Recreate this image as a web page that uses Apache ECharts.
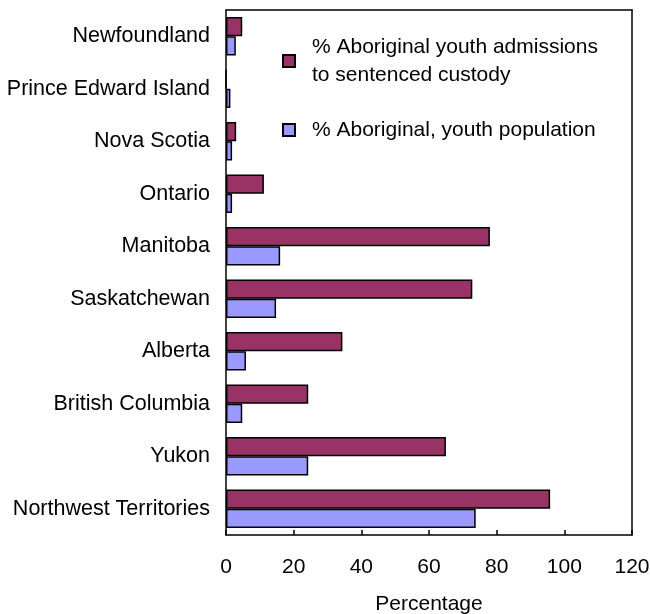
<!DOCTYPE html>
<html>
<head>
<meta charset="utf-8">
<script src="https://cdn.jsdelivr.net/npm/echarts@6/dist/echarts.min.js"></script>
<style>
html,body{margin:0;padding:0;background:#fff;}
#chart{width:650px;height:614px;}
</style>
</head>
<body>
<div id="chart"></div>
<script>
const categories = ["Newfoundland", "Prince Edward Island", "Nova Scotia", "Ontario", "Manitoba", "Saskatchewan", "Alberta", "British Columbia", "Yukon", "Northwest Territories"];
const admissions = [4.8, 0, 3.0, 11.2, 78.0, 72.8, 34.4, 24.3, 65.0, 95.8];
const population = [2.9, 1.3, 1.8, 1.8, 16.0, 14.8, 5.9, 4.8, 24.3, 73.8];
const seriesNames = ["% Aboriginal youth admissions\nto sentenced custody", "% Aboriginal, youth population"];
const xTicks = [0, 20, 40, 60, 80, 100, 120];
const axisTitle = "Percentage";

const font = "'Liberation Sans', Arial, sans-serif";
const chart = echarts.init(document.getElementById('chart'), null, {renderer: 'canvas'});
chart.setOption({
  animation: false,
  backgroundColor: '#fff',
  textStyle: {fontFamily: font, color: '#000'},
  grid: {left: 226, right: 18, top: 10, bottom: 79, show: false, containLabel: false, outerBoundsMode: 'none'},
  legend: {
    orient: 'vertical',
    left: 277,
    top: 28,
    itemWidth: 12,
    itemHeight: 12,
    itemGap: 27,
    icon: 'rect',
    textStyle: {fontFamily: font, fontSize: 21, color: '#000', lineHeight: 28, padding: [0, 0, 0, 12]},
    data: seriesNames
  },
  xAxis: [{
    type: 'value',
    min: xTicks[0],
    max: xTicks[xTicks.length - 1],
    interval: 20,
    name: axisTitle,
    nameLocation: 'middle',
    nameGap: 59,
    nameTextStyle: {fontFamily: font, fontSize: 21, color: '#000'},
    axisLine: {show: true, lineStyle: {color: '#000', width: 1.5}},
    axisTick: {show: true, inside: true, length: 5, lineStyle: {color: '#000', width: 1.5}},
    axisLabel: {fontFamily: font, fontSize: 21, color: '#000', margin: 22},
    splitLine: {show: false}
  }, {
    type: 'value',
    position: 'top',
    min: xTicks[0],
    max: xTicks[xTicks.length - 1],
    interval: 20,
    axisLine: {show: true, onZero: false, lineStyle: {color: '#000', width: 1.5}},
    axisTick: {show: false},
    axisLabel: {show: false},
    splitLine: {show: false}
  }],
  yAxis: [{
    type: 'category',
    data: categories,
    inverse: true,
    axisLine: {show: true, lineStyle: {color: '#000', width: 1.5}},
    axisTick: {show: false},
    axisLabel: {fontFamily: font, fontSize: 21.5, color: '#000', margin: 16},
    splitLine: {show: false}
  }, {
    type: 'category',
    data: categories,
    inverse: true,
    position: 'right',
    axisLine: {show: true, onZero: false, lineStyle: {color: '#000', width: 1.5}},
    axisTick: {show: false},
    axisLabel: {show: false},
    splitLine: {show: false}
  }],
  series: [
    {
      name: seriesNames[0],
      type: 'bar',
      data: admissions,
      barGap: '0%',
      barCategoryGap: '27%',
      itemStyle: {color: '#993366', borderColor: '#000', borderWidth: 1.5}
    },
    {
      name: seriesNames[1],
      type: 'bar',
      data: population,
      barGap: '0%',
      barCategoryGap: '27%',
      itemStyle: {color: '#9999FF', borderColor: '#000', borderWidth: 1.5}
    }
  ]
});
</script>
</body>
</html>
